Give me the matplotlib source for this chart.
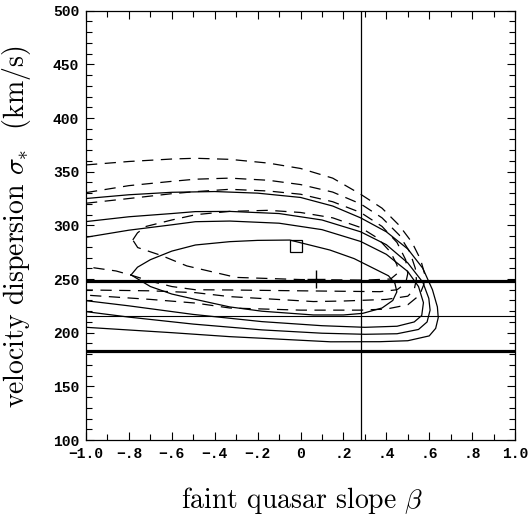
"""Likelihood contours of velocity dispersion against faint quasar slope."""
import matplotlib

matplotlib.use("Agg")
import matplotlib.pyplot as plt
from matplotlib.ticker import FixedLocator, MultipleLocator

plt.rcParams["mathtext.fontset"] = "cm"

# contour traces as (beta, sigma) pairs
solid_a = [(-1.0, 325.0), (-0.8, 328.5), (-0.6, 330.8), (-0.4, 331.5), (-0.2, 330.0),
           (0.0, 326.0), (0.15, 318.0), (0.28, 307.0), (0.4, 294.0), (0.5, 278.0),
           (0.57, 260.0), (0.615, 240.0), (0.638, 224.0), (0.642, 214.0), (0.63, 204.0),
           (0.6, 197.0), (0.5, 192.5), (0.37, 191.6), (0.14, 191.5), (-0.18, 194.8),
           (-0.33, 196.3), (-0.6, 200.0), (-1.0, 205.0)]
solid_b = [(-1.0, 303.5), (-0.8, 308.0), (-0.6, 311.0), (-0.49, 312.8), (-0.33, 313.0),
           (-0.1, 311.0), (0.1, 305.0), (0.28, 294.0), (0.4, 282.0), (0.5, 265.0),
           (0.57, 247.0), (0.598, 232.0), (0.604, 221.0), (0.59, 210.0), (0.55, 203.0),
           (0.45, 199.0), (0.3, 198.5), (0.1, 199.5), (-0.18, 202.6), (-0.5, 208.0),
           (-0.8, 214.5), (-1.0, 219.6)]
solid_c = [(-1.0, 288.9), (-0.8, 295.5), (-0.6, 300.5), (-0.49, 303.4), (-0.33, 304.0),
           (-0.1, 302.0), (0.1, 296.0), (0.28, 285.0), (0.4, 273.0), (0.5, 257.0),
           (0.55, 243.0), (0.573, 228.0), (0.565, 216.0), (0.53, 210.0), (0.45, 206.0),
           (0.3, 205.0), (0.1, 206.5), (-0.18, 210.3), (-0.5, 217.0), (-0.8, 225.0),
           (-1.0, 229.8)]
solid_d = [(-0.79, 253.8), (-0.76, 261.0), (-0.7, 268.0), (-0.6, 276.0), (-0.49, 281.7),
           (-0.33, 284.8), (-0.2, 286.0), (-0.05, 286.3), (0.137, 277.0), (0.25, 269.0),
           (0.355, 258.5), (0.41, 253.0), (0.44, 246.0), (0.449, 238.0), (0.43, 230.0),
           (0.38, 223.0), (0.29, 218.0), (0.2, 216.5), (0.06, 216.5), (-0.18, 220.0),
           (-0.33, 224.0), (-0.49, 231.0), (-0.6, 236.0), (-0.7, 243.0), (-0.79, 253.8)]

dashed_a = [(-1.0, 356.3), (-0.8, 359.5), (-0.6, 361.8), (-0.49, 362.5), (-0.33, 361.5),
            (-0.15, 358.0), (0.0, 353.0), (0.15, 344.0), (0.28, 329.0), (0.38, 316.0),
            (0.46, 300.0), (0.52, 284.0), (0.56, 268.0), (0.578, 255.0), (0.575, 245.0),
            (0.555, 235.0), (0.5, 226.0), (0.4, 222.0), (0.28, 221.0), (0.0, 221.0),
            (-0.33, 223.0), (-0.49, 227.6), (-0.7, 231.0), (-1.0, 235.0)]
dashed_b = [(-1.0, 330.5), (-0.8, 337.0), (-0.6, 341.0), (-0.49, 343.0), (-0.33, 344.0),
            (-0.15, 342.0), (0.0, 338.0), (0.15, 331.0), (0.28, 320.0), (0.38, 307.0),
            (0.46, 291.0), (0.51, 275.0), (0.535, 260.0), (0.54, 250.0), (0.53, 240.0),
            (0.5, 234.0), (0.4, 231.0), (0.2, 229.5), (0.06, 229.0), (-0.33, 233.6),
            (-0.49, 237.3), (-0.7, 239.0), (-1.0, 239.8)]
dashed_c = [(-1.0, 320.6), (-0.8, 325.0), (-0.6, 329.5), (-0.49, 331.4), (-0.33, 333.6),
            (-0.15, 332.0), (0.0, 329.0), (0.15, 322.0), (0.28, 312.0), (0.38, 299.0),
            (0.45, 284.0), (0.49, 268.0), (0.5, 255.0), (0.49, 246.0), (0.45, 240.0),
            (0.37, 238.2), (0.0, 239.0), (-0.33, 239.8), (-0.49, 240.0), (-0.6, 243.0),
            (-0.7, 248.0), (-0.78, 253.0), (-0.86, 257.5), (-1.0, 261.5)]
dashed_d = [(-0.782, 286.4), (-0.76, 293.0), (-0.72, 299.0), (-0.6, 305.0), (-0.487, 310.0),
            (-0.33, 313.0), (-0.15, 314.0), (0.0, 312.0), (0.15, 307.0), (0.28, 298.0),
            (0.36, 288.0), (0.42, 275.0), (0.45, 263.0), (0.45, 255.0), (0.42, 250.0),
            (0.3, 249.0), (0.0, 249.5), (-0.3, 251.5), (-0.53, 262.2), (-0.65, 272.0),
            (-0.759, 279.3), (-0.782, 286.4)]

solid_contours = [solid_a, solid_b, solid_c, solid_d]
dashed_contours = [dashed_a, dashed_b, dashed_c, dashed_d]

# reference values
beta_line = 0.28
sigma_bounds = [248.5, 183.2]
sigma_line = 215.6
square_point = (-0.021, 280.8)
plus_point = (0.072, 249.8)

xtick_values = [-1.0, -0.8, -0.6, -0.4, -0.2, 0.0, 0.2, 0.4, 0.6, 0.8, 1.0]
xtick_labels = ["\u22121.0", "\u2212.8", "\u2212.6", "\u2212.4", "\u2212.2", "0",
                ".2", ".4", ".6", ".8", "1.0"]
ytick_values = [100, 150, 200, 250, 300, 350, 400, 450, 500]

fig = plt.figure(figsize=(5.29, 5.19), dpi=100)
ax = fig.add_axes([0.1626, 0.1522, 0.811, 0.8272])

for pts in solid_contours:
    b, s = zip(*pts)
    ax.plot(b, s, color="black", lw=0.9)
for pts in dashed_contours:
    b, s = zip(*pts)
    ax.plot(b, s, color="black", lw=0.9, ls=(0, (9, 6)))

for s in sigma_bounds:
    ax.axhline(s, color="black", lw=2.3)
ax.axhline(sigma_line, color="black", lw=0.8)
ax.axvline(beta_line, color="black", lw=0.9)

ax.plot(*square_point, marker="s", ms=8.7, mfc="none", mec="black", mew=0.9)
ax.plot(*plus_point, marker="+", ms=13, mec="black", mew=1.0)

ax.set_xlim(-1.0, 1.0)
ax.set_ylim(100, 500)
ax.xaxis.set_major_locator(FixedLocator(xtick_values))
ax.set_xticklabels(xtick_labels)
ax.xaxis.set_minor_locator(MultipleLocator(0.1))
ax.yaxis.set_major_locator(FixedLocator(ytick_values))
ax.yaxis.set_minor_locator(MultipleLocator(10))
ax.tick_params(which="both", direction="in", top=True, right=True, width=0.8)
ax.tick_params(which="major", length=6, pad=5)
ax.tick_params(which="minor", length=4)
for lab in ax.get_xticklabels() + ax.get_yticklabels():
    lab.set_family("Liberation Mono")
    lab.set_weight("bold")
    lab.set_size(10.5)
for sp in ax.spines.values():
    sp.set_linewidth(0.9)

ax.set_xlabel(r"faint quasar slope $\beta$", family="cmr10", fontsize=20)
ax.set_ylabel(r"velocity dispersion $\sigma_{*}$  (km/s)", family="cmr10", fontsize=20)
ax.xaxis.set_label_coords(0.5035, -0.104)
ax.yaxis.set_label_coords(-0.124, 0.496)

fig.savefig("out.png", dpi=100)
